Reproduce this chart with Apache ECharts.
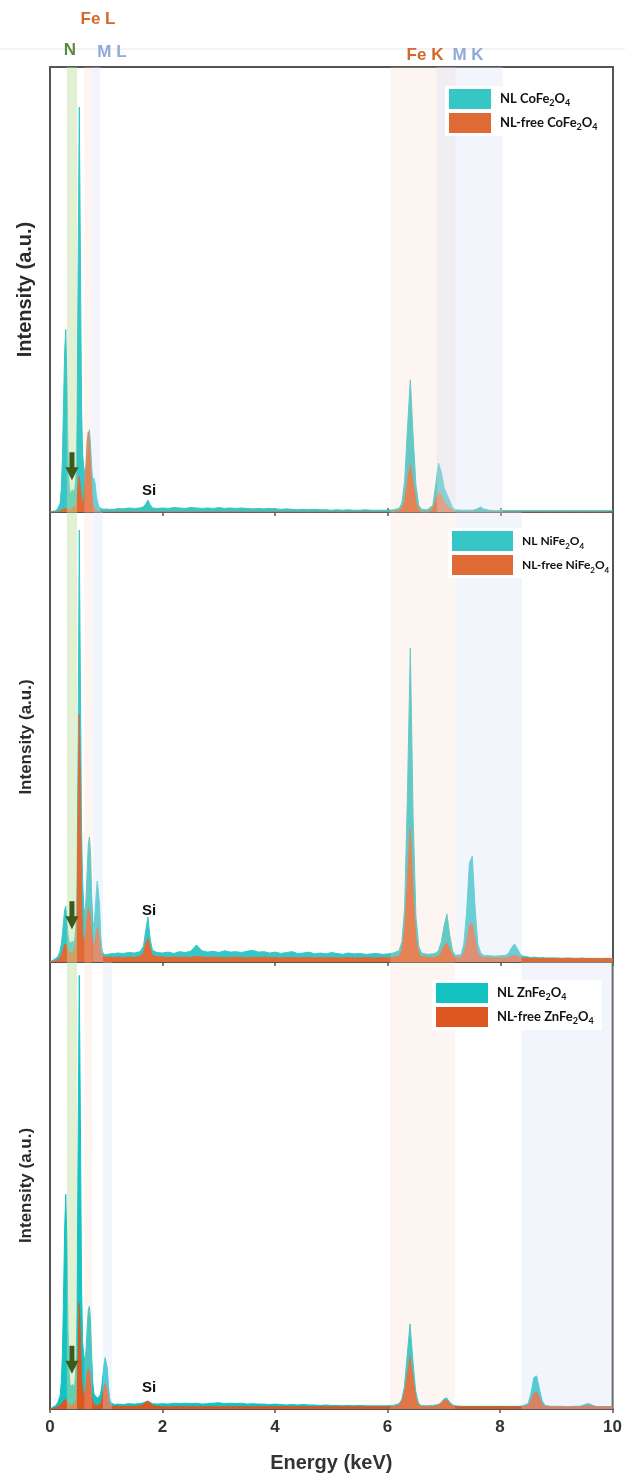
<!DOCTYPE html>
<html>
<head>
<meta charset="utf-8">
<script src="https://cdn.jsdelivr.net/npm/echarts@6/dist/echarts.min.js"></script>
<style>
  html, body { margin: 0; background: #fff; }
  #chart { width: 625px; height: 1479px; }
</style>
</head>
<body>
<div id="chart"></div>
<script>
// energy grid (keV), shared by every spectrum
const energy = [
  0.00, 0.10, 0.14, 0.18, 0.20, 0.22, 0.24, 0.26, 0.28, 0.30,
  0.32, 0.34, 0.36, 0.38, 0.40, 0.42, 0.44, 0.46, 0.48, 0.50,
  0.52, 0.54, 0.56, 0.58, 0.60, 0.62, 0.64, 0.66, 0.68, 0.70,
  0.72, 0.74, 0.76, 0.78, 0.80, 0.82, 0.84, 0.86, 0.88, 0.90,
  0.92, 0.94, 0.96, 0.98, 1.00, 1.02, 1.04, 1.06, 1.08, 1.10,
  1.14, 1.20, 1.30, 1.40, 1.50, 1.60, 1.66, 1.70, 1.74, 1.78,
  1.82, 1.90, 2.00, 2.10, 2.20, 2.30, 2.40, 2.50, 2.60, 2.70,
  2.80, 2.90, 3.00, 3.10, 3.20, 3.30, 3.40, 3.50, 3.60, 3.70,
  3.80, 3.90, 4.00, 4.10, 4.20, 4.30, 4.40, 4.50, 4.60, 4.70,
  4.80, 4.90, 5.00, 5.10, 5.20, 5.30, 5.40, 5.50, 5.60, 5.70,
  5.80, 5.90, 6.00, 6.10, 6.20, 6.25, 6.30, 6.35, 6.40, 6.45,
  6.50, 6.55, 6.60, 6.70, 6.80, 6.85, 6.90, 6.95, 7.00, 7.05,
  7.10, 7.15, 7.20, 7.30, 7.35, 7.40, 7.45, 7.50, 7.55, 7.60,
  7.65, 7.70, 7.80, 7.90, 8.00, 8.10, 8.15, 8.20, 8.25, 8.30,
  8.35, 8.40, 8.50, 8.55, 8.60, 8.65, 8.70, 8.75, 8.80, 8.90,
  9.00, 9.10, 9.20, 9.30, 9.40, 9.45, 9.50, 9.55, 9.60, 9.65,
  9.70, 9.80, 9.90, 10.00
];

// normalised intensity (0-100 = panel height)
const nlCo = [
  0, 0.3, 0.8, 2, 5, 12, 24, 36, 41, 30,
  14, 6, 4, 4.5, 5, 4.5, 5, 8, 20, 55,
  91, 58, 24, 13, 10, 9, 10, 13, 17, 18.5,
  15, 10, 7, 7.6, 6.5, 4, 2.5, 1.5, 1, 0.8,
  0.7, 0.6, 0.6, 0.6, 0.7, 0.6, 0.6, 0.5, 0.6, 0.7,
  0.6, 0.8, 0.7, 0.9, 0.8, 0.9, 1.2, 1.8, 2.7, 1.6,
  0.9, 0.8, 0.9, 0.8, 1.0, 0.9, 0.8, 1.0, 0.9, 0.8,
  0.9, 0.8, 1.0, 0.8, 0.9, 0.8, 0.9, 0.8, 0.7, 0.8,
  0.7, 0.8, 0.7, 0.6, 0.7, 0.6, 0.5, 0.6, 0.5, 0.6,
  0.5, 0.5, 0.4, 0.5, 0.4, 0.5, 0.4, 0.4, 0.5, 0.4,
  0.4, 0.4, 0.4, 0.5, 0.8, 2, 7, 19, 29.7, 17,
  6, 1.5, 0.6, 0.5, 1.5, 6, 11, 9, 5.5, 4,
  2.5, 1, 0.5, 0.4, 0.4, 0.4, 0.4, 0.4, 0.5, 0.8,
  1.1, 0.7, 0.4, 0.3, 0.3, 0.3, 0.3, 0.3, 0.3, 0.3,
  0.3, 0.3, 0.3, 0.3, 0.3, 0.3, 0.3, 0.3, 0.3, 0.3,
  0.3, 0.3, 0.3, 0.3, 0.3, 0.3, 0.3, 0.3, 0.3, 0.3,
  0.3, 0.3, 0.3, 0.3
];
const freeCo = [
  0, 0, 0, 0.2, 0.3, 0.5, 0.7, 0.8, 0.8, 0.7,
  0.5, 0.4, 0.5, 0.8, 1.0, 1.0, 1.2, 1.5, 3, 6,
  8, 5.5, 2.5, 2, 3, 6, 11, 16, 18, 16,
  10, 5, 2, 1, 0.5, 0.3, 0.2, 0.1, 0, 0,
  0, 0, 0, 0, 0, 0, 0, 0, 0, 0,
  0, 0, 0, 0, 0, 0, 0, 0, 0, 0,
  0, 0, 0, 0, 0, 0, 0, 0, 0, 0,
  0, 0, 0, 0, 0, 0, 0, 0, 0, 0,
  0, 0, 0, 0, 0, 0, 0, 0, 0, 0,
  0, 0, 0, 0, 0, 0, 0, 0, 0, 0,
  0, 0, 0, 0, 0.3, 0.8, 2.5, 7, 10.6, 6.5,
  2.2, 0.5, 0, 0, 0.5, 2.5, 4.5, 3.8, 2.2, 1.5,
  0.8, 0.3, 0, 0, 0, 0, 0, 0, 0, 0,
  0, 0, 0, 0, 0, 0, 0, 0, 0, 0,
  0, 0, 0, 0, 0, 0, 0, 0, 0, 0,
  0, 0, 0, 0, 0, 0, 0, 0, 0, 0,
  0, 0, 0, 0
];
const nlNi = [
  0, 0.8, 1.2, 2.5, 4, 6, 9, 11.5, 12.4, 9,
  6, 4.5, 4, 4.5, 4.2, 4.5, 5, 8, 18, 50,
  96, 62, 30, 18, 12, 11, 14, 20, 26, 27.8,
  24, 15, 9, 8, 11, 15, 18, 18.2, 13, 6,
  3, 2, 1.8, 1.6, 1.8, 1.7, 1.6, 1.8, 1.7, 1.9,
  1.8, 2.0, 1.9, 2.1, 2.0, 2.3, 3.5, 7, 10, 5,
  2.6, 2.1, 2.0, 2.2, 1.9, 2.3, 2.1, 2.4, 3.8, 2.5,
  2.2, 2.4, 2.1, 2.5, 2.2, 2.3, 2.1, 2.4, 2.6, 2.2,
  2.3, 2.0, 2.2, 1.9, 2.1, 2.3, 1.9, 2.0, 2.2, 1.8,
  2.0, 1.8, 2.1, 1.9, 1.7, 2.0, 1.8, 1.9, 1.7, 1.8,
  1.9, 1.7, 1.8, 2.0, 2.5, 4.5, 12, 38, 69.8, 32,
  10, 3.5, 2.0, 1.7, 1.8, 2.0, 2.5, 4.5, 8, 10.7,
  6, 2.5, 1.5, 1.6, 4, 11, 22, 23.5, 12, 4,
  2, 1.5, 1.4, 1.3, 1.4, 1.5, 2, 3.2, 4, 3,
  1.8, 1.3, 1.1, 1.0, 1.1, 1.0, 0.9, 1.0, 0.9, 0.9,
  0.9, 0.8, 0.9, 0.8, 0.8, 0.9, 0.8, 0.8, 0.8, 0.7,
  0.8, 0.7, 0.8, 0.7
];
const freeNi = [
  0, 0.3, 0.5, 1, 1.5, 2, 3, 4, 4.2, 3.5,
  2.5, 2, 1.8, 2, 2.2, 2.1, 2.5, 4, 12, 35,
  55, 38, 14, 6, 4.5, 5, 7, 10, 12, 12.4,
  10, 6, 4, 3.5, 4.5, 6.5, 7.8, 7.5, 5, 2.5,
  1.5, 1.2, 1.1, 1.0, 1.1, 1.0, 1.1, 1.0, 1.1, 1.0,
  1.0, 1.1, 1.0, 1.1, 1.0, 1.2, 2, 4, 5.3, 3,
  1.5, 1.2, 1.1, 1.0, 1.1, 1.0, 1.1, 1.0, 1.2, 1.1,
  1.0, 1.1, 1.0, 0.9, 1.0, 1.1, 1.0, 0.9, 1.0, 1.0,
  1.1, 1.0, 1.0, 0.9, 1.0, 1.0, 0.9, 1.0, 1.0, 0.9,
  1.0, 0.9, 1.0, 0.9, 0.9, 1.0, 0.9, 0.9, 1.0, 0.9,
  0.9, 1.0, 0.9, 1.0, 1.3, 2.5, 7, 18, 29.8, 15,
  5, 1.8, 1.2, 1.0, 1.0, 1.1, 1.3, 2, 3.5, 4.2,
  2.8, 1.4, 1.0, 1.0, 2, 4.5, 8.2, 8.7, 5, 2,
  1.2, 1.0, 0.9, 0.9, 0.9, 0.9, 1.0, 1.3, 1.5, 1.2,
  1.0, 0.9, 0.8, 0.8, 0.8, 0.8, 0.8, 0.8, 0.8, 0.8,
  0.8, 0.8, 0.8, 0.8, 0.8, 0.8, 0.8, 0.8, 0.8, 0.8,
  0.8, 0.8, 0.8, 0.8
];
const nlZn = [
  0, 0.8, 1.5, 3, 6, 12, 25, 40, 48, 38,
  18, 8, 5, 5, 5.5, 5, 5.5, 9, 22, 60,
  97, 65, 28, 15, 12, 11, 13, 18, 22, 23,
  20, 12, 6, 3.5, 3, 2.7, 2.5, 2.6, 2.8, 3.5,
  5, 7.5, 10, 11.5, 11.9, 9, 5, 2.5, 1.5, 1.2,
  1.0, 1.1, 1.0, 1.2, 1.1, 1.2, 1.4, 1.6, 1.7, 1.5,
  1.2, 1.1, 1.2, 1.1, 1.3, 1.2, 1.3, 1.2, 1.3, 1.1,
  1.2, 1.3, 1.4, 1.2, 1.3, 1.2, 1.3, 1.1, 1.2, 1.1,
  1.1, 1.0, 1.1, 1.0, 0.9, 1.0, 0.9, 1.0, 0.9, 0.9,
  0.8, 0.9, 0.8, 0.8, 0.7, 0.8, 0.7, 0.8, 0.7, 0.7,
  0.7, 0.7, 0.7, 0.8, 1.2, 2, 5, 12, 19, 11,
  4, 1.3, 0.8, 0.7, 0.8, 0.9, 1.0, 1.4, 2.2, 2.5,
  1.6, 1.0, 0.7, 0.6, 0.6, 0.6, 0.6, 0.6, 0.6, 0.6,
  0.6, 0.6, 0.6, 0.6, 0.6, 0.6, 0.6, 0.6, 0.6, 0.6,
  0.6, 0.7, 1.2, 3.5, 7, 7.4, 4.5, 1.8, 0.8, 0.6,
  0.6, 0.6, 0.5, 0.6, 0.6, 0.7, 1.0, 1.2, 1.1, 0.8,
  0.6, 0.5, 0.5, 0.5
];
const freeZn = [
  0, 0.3, 0.5, 0.8, 1, 1.3, 1.7, 2.1, 2.2, 1.8,
  1.2, 0.9, 0.8, 0.9, 1.0, 1.0, 1.2, 2, 5, 12,
  23.7, 16, 7, 4, 3, 3.5, 5.5, 8, 9, 8.5,
  6, 3, 1.5, 1, 0.8, 0.8, 0.8, 0.8, 0.9, 1.2,
  2, 3.5, 5, 5.8, 5.6, 4, 2, 1, 0.7, 0.6,
  0.6, 0.6, 0.6, 0.6, 0.6, 0.7, 1.0, 1.5, 1.8, 1.3,
  0.8, 0.6, 0.5, 0.5, 0.5, 0.5, 0.5, 0.5, 0.5, 0.5,
  0.5, 0.5, 0.5, 0.5, 0.5, 0.5, 0.5, 0.5, 0.5, 0.5,
  0.5, 0.5, 0.5, 0.5, 0.5, 0.5, 0.5, 0.5, 0.5, 0.5,
  0.5, 0.5, 0.5, 0.5, 0.5, 0.5, 0.5, 0.5, 0.5, 0.5,
  0.5, 0.5, 0.5, 0.5, 0.8, 1.5, 3.5, 7.5, 11.6, 7,
  2.5, 0.8, 0.5, 0.5, 0.5, 0.6, 0.8, 1.2, 1.8, 2.0,
  1.2, 0.7, 0.5, 0.5, 0.5, 0.5, 0.5, 0.5, 0.5, 0.5,
  0.5, 0.5, 0.5, 0.5, 0.5, 0.5, 0.5, 0.5, 0.5, 0.5,
  0.5, 0.5, 0.8, 1.8, 3.5, 3.8, 2.5, 1.0, 0.6, 0.5,
  0.5, 0.5, 0.5, 0.5, 0.5, 0.5, 0.6, 0.7, 0.7, 0.6,
  0.5, 0.5, 0.5, 0.5
];

const nlNames = ['NL CoFe2O4', 'NL NiFe2O4', 'NL ZnFe2O4'];
const freeNames = ['NL-free CoFe2O4', 'NL-free NiFe2O4', 'NL-free ZnFe2O4'];
const nlSeries = [nlCo, nlNi, nlZn];
const freeSeries = [freeCo, freeNi, freeZn];
const xTicks = [0, 2, 4, 6, 8, 10];

// highlighted energy windows (keV)
const nBand = [0.30, 0.48];
const feLBand = [0.61, 0.75];
const feKBand = [6.05, 7.20];
const metalLBands = [[0.75, 0.89], [0.76, 0.94], [0.94, 1.10]];
const metalKBands = [[6.87, 8.04], [7.20, 8.38], [8.38, 10.0]];

// annotation anchors
const arrowE = 0.39;
const arrowLevels = [10.3, 10.4, 11];
const siE = 1.76;
const siLevels = [4.8, 11.4, 4.8];

const FONT = 'Liberation Sans, Arial, sans-serif';
const tealColors = ['#36c6c6', '#36c6c6', '#14c2c2'];
const orangeColors = ['#e06a35', '#e06a35', '#dc5620'];
const panelTops = [67, 512, 962];
const panelHeights = [445, 450, 447];
const yNameSize = [20, 17, 17];
const legendPos = [
  { left: 445, top: 86, w: 42, font: 13, padRight: 8 },
  { left: 448, top: 528, w: 61, font: 12, padRight: 2 },
  { left: 432, top: 980, w: 52, font: 13, padRight: 8 }
];

const chart = echarts.init(document.getElementById('chart'));

const grid = panelTops.map((top, i) => ({
  left: 50, width: 563, top, height: panelHeights[i],
  show: true, borderColor: '#555', borderWidth: 2, backgroundColor: 'transparent'
}));

const xAxis = panelTops.map((_, i) => ({
  type: 'value', gridIndex: i, min: 0, max: 10, interval: 2,
  axisLine: { show: true, onZero: false, lineStyle: { color: '#555', width: 2 } },
  axisTick: { show: true, length: 4, lineStyle: { color: '#555', width: 1.5 } },
  splitLine: { show: false },
  axisLabel: {
    show: i === 2, fontSize: 17, fontWeight: 'bold', color: '#333', fontFamily: FONT, margin: 10,
    formatter: (v) => (xTicks.includes(v) ? String(v) : '')
  },
  name: i === 2 ? 'Energy (keV)' : '',
  nameLocation: 'middle', nameGap: 44,
  nameTextStyle: { fontSize: 20, fontWeight: 'bold', color: '#333', fontFamily: FONT }
}));
xAxis.push({
  type: 'value', gridIndex: 0, position: 'top', min: 0, max: 10, interval: 2,
  axisLine: { show: true, lineStyle: { color: '#555', width: 2 } },
  axisTick: { show: true, length: 4, lineStyle: { color: '#555', width: 1.5 } },
  axisLabel: { show: false }, splitLine: { show: false }
});

const yAxis = panelTops.map((_, i) => ({
  type: 'value', gridIndex: i, min: 0, max: 100,
  axisLine: { show: true, lineStyle: { color: '#555', width: 2 } },
  axisTick: { show: false }, axisLabel: { show: false }, splitLine: { show: false },
  name: 'Intensity (a.u.)', nameLocation: 'middle', nameRotate: 90, nameGap: 15,
  nameTextStyle: { fontSize: yNameSize[i], fontWeight: 'bold', color: '#2b2b2b', fontFamily: FONT }
}));

const arrowPath = 'path://M4,0 L9,0 L9,15 L13,15 L6.5,28 L0,15 L4,15 Z';
const green = 'rgba(190,225,160,0.45)';
const pink = 'rgba(245,215,195,0.24)';
const blue = 'rgba(215,225,245,0.32)';

function band(range, color) {
  return [{ xAxis: range[0], itemStyle: { color } }, { xAxis: range[1] }];
}

const series = [];
panelTops.forEach((_, i) => {
  series.push({
    name: nlNames[i], type: 'line', xAxisIndex: i, yAxisIndex: i, z: 2,
    data: energy.map((e, k) => [e, nlSeries[i][k]]),
    showSymbol: false, symbol: 'none', smooth: false,
    itemStyle: { color: tealColors[i] },
    lineStyle: { color: tealColors[i], width: 1 },
    areaStyle: { color: tealColors[i], opacity: 1 },
    markPoint: {
      z: 6, silent: true,
      data: [
        {
          coord: [arrowE, arrowLevels[i]], symbol: arrowPath, symbolSize: [13, 28],
          itemStyle: { color: '#3b5a1e' }, label: { show: false }
        },
        {
          coord: [siE, siLevels[i]], symbol: 'circle', symbolSize: 1,
          itemStyle: { color: 'rgba(0,0,0,0)' },
          label: { show: true, position: 'inside', formatter: 'Si', fontSize: 15, fontWeight: 'bold', color: '#111', fontFamily: FONT }
        }
      ]
    }
  });
  series.push({
    name: freeNames[i], type: 'line', xAxisIndex: i, yAxisIndex: i, z: 2,
    data: energy.map((e, k) => [e, freeSeries[i][k]]),
    showSymbol: false, symbol: 'none', smooth: false,
    itemStyle: { color: orangeColors[i] },
    lineStyle: { color: orangeColors[i], width: 1 },
    areaStyle: { color: orangeColors[i], opacity: 1 },
    markArea: {
      z: 3, silent: true, label: { show: false },
      data: [
        band(nBand, green),
        band(feLBand, pink),
        band(metalLBands[i], blue),
        band(feKBand, pink),
        band(metalKBands[i], blue)
      ]
    }
  });
});

const legend = legendPos.map((p, i) => ({
  data: [nlNames[i], freeNames[i]],
  orient: 'vertical', left: p.left, top: p.top,
  itemWidth: p.w, itemHeight: 20, itemGap: 4, icon: 'rect',
  selectedMode: false, backgroundColor: '#fff', padding: [3, p.padRight, 3, 4], z: 5,
  formatter: (name) => name.replace('Fe2O4', 'Fe{s|2}O{s|4}'),
  textStyle: {
    fontFamily: 'Lato, ' + FONT, fontSize: p.font, fontWeight: 'bold', color: '#111',
    lineHeight: 18, padding: [0, 0, 0, 4],
    rich: { s: { fontFamily: 'Lato, ' + FONT, fontSize: p.font - 4, fontWeight: 'bold', color: '#111', verticalAlign: 'bottom', lineHeight: 10 } }
  }
}));

const headerStyle = (text, x, y, color) => ({
  type: 'text', x, y, z: 10,
  style: { text, fill: color, font: 'bold 17px ' + FONT, textAlign: 'center', textVerticalAlign: 'middle' }
});

chart.setOption({
  animation: false,
  backgroundColor: '#fff',
  grid, xAxis, yAxis, legend, series,
  graphic: [
    { type: 'line', z: 1, shape: { x1: 0, y1: 49, x2: 625, y2: 49 }, style: { stroke: '#e8e8e8', lineWidth: 1 } },
    headerStyle('Fe L', 98, 19, '#d2692b'),
    headerStyle('N', 70, 50, '#5b8a3c'),
    headerStyle('M L', 112, 52, '#8eaadb'),
    headerStyle('Fe K', 425, 55, '#d2692b'),
    headerStyle('M K', 468, 55, '#8eaadb')
  ]
});
</script>
</body>
</html>
